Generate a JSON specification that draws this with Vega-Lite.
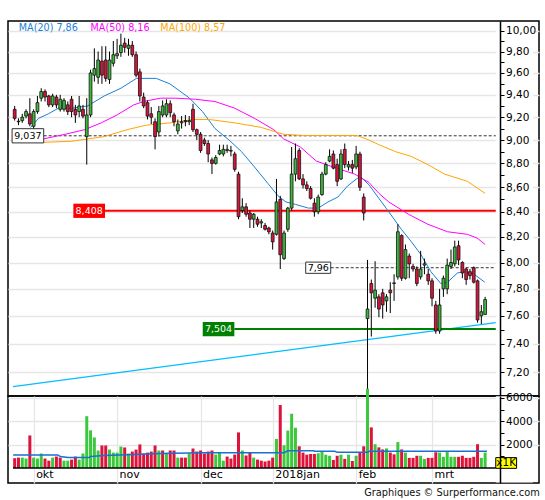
{
"$schema":"https://vega.github.io/schema/vega-lite/v6.json",
"padding":{"left":7,"top":20,"right":0,"bottom":0},
"background":"white",
"bounds":"flush",
"config":{"view":{"stroke":"#000","strokeWidth":1.5},"font":"DejaVu Sans","axis":{"minExtent":0,"labelFont":"DejaVu Sans"},"text":{"font":"DejaVu Sans"},"title":{"font":"DejaVu Sans"}},
"title":{"text":"Graphiques © Surperformance.com","orient":"bottom","anchor":"end","fontSize":9.8,"fontWeight":"normal","color":"#111","offset":4},
"datasets":{
"candles":[
{"i":0,"o":9.27,"h":9.30,"l":9.17,"c":9.19,"v":840,"vd":"d"},
{"i":1,"o":9.165,"h":9.19,"l":9.13,"c":9.16,"v":890,"vd":"d"},
{"i":2,"o":9.17,"h":9.23,"l":9.15,"c":9.20,"v":890,"vd":"u"},
{"i":3,"o":9.21,"h":9.27,"l":9.19,"c":9.25,"v":810,"vd":"u"},
{"i":4,"o":9.23,"h":9.37,"l":9.12,"c":9.14,"v":2790,"vd":"d"},
{"i":5,"o":9.12,"h":9.27,"l":9.09,"c":9.25,"v":890,"vd":"u"},
{"i":6,"o":9.25,"h":9.39,"l":9.23,"c":9.33,"v":810,"vd":"u"},
{"i":7,"o":9.37,"h":9.46,"l":9.34,"c":9.43,"v":1240,"vd":"u"},
{"i":8,"o":9.43,"h":9.45,"l":9.34,"c":9.38,"v":810,"vd":"d"},
{"i":9,"o":9.39,"h":9.40,"l":9.29,"c":9.31,"v":630,"vd":"d"},
{"i":10,"o":9.31,"h":9.41,"l":9.29,"c":9.39,"v":890,"vd":"u"},
{"i":11,"o":9.38,"h":9.40,"l":9.28,"c":9.31,"v":980,"vd":"d"},
{"i":12,"o":9.27,"h":9.40,"l":9.25,"c":9.36,"v":890,"vd":"d"},
{"i":13,"o":9.27,"h":9.37,"l":9.25,"c":9.35,"v":630,"vd":"u"},
{"i":14,"o":9.31,"h":9.34,"l":9.22,"c":9.25,"v":630,"vd":"u"},
{"i":15,"o":9.36,"h":9.39,"l":9.20,"c":9.25,"v":720,"vd":"d"},
{"i":16,"o":9.27,"h":9.31,"l":9.15,"c":9.22,"v":980,"vd":"d"},
{"i":17,"o":9.25,"h":9.39,"l":9.20,"c":9.30,"v":720,"vd":"u"},
{"i":18,"o":9.27,"h":9.31,"l":9.19,"c":9.21,"v":1240,"vd":"u"},
{"i":19,"o":9.03,"h":9.37,"l":8.79,"c":9.22,"v":4440,"vd":"u"},
{"i":20,"o":9.22,"h":9.63,"l":9.20,"c":9.60,"v":3230,"vd":"u"},
{"i":21,"o":9.58,"h":9.83,"l":9.52,"c":9.64,"v":2620,"vd":"u"},
{"i":22,"o":9.56,"h":9.80,"l":9.50,"c":9.72,"v":1500,"vd":"u"},
{"i":23,"o":9.71,"h":9.85,"l":9.50,"c":9.58,"v":1930,"vd":"d"},
{"i":24,"o":9.72,"h":9.85,"l":9.52,"c":9.55,"v":1930,"vd":"d"},
{"i":25,"o":9.54,"h":9.80,"l":9.50,"c":9.72,"v":1580,"vd":"u"},
{"i":26,"o":9.69,"h":9.90,"l":9.66,"c":9.77,"v":1320,"vd":"u"},
{"i":27,"o":9.76,"h":9.92,"l":9.73,"c":9.78,"v":1320,"vd":"u"},
{"i":28,"o":9.79,"h":9.97,"l":9.75,"c":9.86,"v":1840,"vd":"u"},
{"i":29,"o":9.88,"h":9.93,"l":9.79,"c":9.84,"v":1760,"vd":"d"},
{"i":30,"o":9.83,"h":9.92,"l":9.76,"c":9.86,"v":1240,"vd":"u"},
{"i":31,"o":9.86,"h":9.90,"l":9.75,"c":9.77,"v":1410,"vd":"d"},
{"i":32,"o":9.77,"h":9.80,"l":9.56,"c":9.58,"v":1580,"vd":"d"},
{"i":33,"o":9.61,"h":9.64,"l":9.34,"c":9.39,"v":2020,"vd":"d"},
{"i":34,"o":9.38,"h":9.42,"l":9.28,"c":9.30,"v":1240,"vd":"d"},
{"i":35,"o":9.33,"h":9.35,"l":9.18,"c":9.21,"v":1320,"vd":"d"},
{"i":36,"o":9.23,"h":9.29,"l":9.14,"c":9.20,"v":1410,"vd":"d"},
{"i":37,"o":9.16,"h":9.19,"l":8.92,"c":9.03,"v":1930,"vd":"d"},
{"i":38,"o":9.07,"h":9.30,"l":9.03,"c":9.25,"v":1500,"vd":"u"},
{"i":39,"o":9.22,"h":9.35,"l":9.20,"c":9.30,"v":1500,"vd":"d"},
{"i":40,"o":9.22,"h":9.36,"l":9.20,"c":9.32,"v":1240,"vd":"u"},
{"i":41,"o":9.32,"h":9.35,"l":9.20,"c":9.24,"v":1500,"vd":"d"},
{"i":42,"o":9.22,"h":9.24,"l":9.12,"c":9.16,"v":1500,"vd":"d"},
{"i":43,"o":9.08,"h":9.18,"l":9.05,"c":9.14,"v":890,"vd":"u"},
{"i":44,"o":9.15,"h":9.21,"l":9.10,"c":9.16,"v":890,"vd":"d"},
{"i":45,"o":9.17,"h":9.22,"l":9.12,"c":9.16,"v":890,"vd":"d"},
{"i":46,"o":9.16,"h":9.21,"l":9.13,"c":9.17,"v":1240,"vd":"u"},
{"i":47,"o":9.27,"h":9.32,"l":9.07,"c":9.09,"v":1670,"vd":"d"},
{"i":48,"o":9.09,"h":9.10,"l":9.00,"c":9.05,"v":1410,"vd":"d"},
{"i":49,"o":9.05,"h":9.07,"l":8.89,"c":8.91,"v":1500,"vd":"d"},
{"i":50,"o":9.00,"h":9.02,"l":8.95,"c":8.97,"v":1240,"vd":"d"},
{"i":51,"o":8.97,"h":9.00,"l":8.81,"c":8.88,"v":1410,"vd":"d"},
{"i":52,"o":8.83,"h":8.85,"l":8.71,"c":8.80,"v":1500,"vd":"d"},
{"i":53,"o":8.80,"h":8.87,"l":8.79,"c":8.85,"v":1150,"vd":"u"},
{"i":54,"o":8.88,"h":8.96,"l":8.87,"c":8.91,"v":1320,"vd":"u"},
{"i":55,"o":8.88,"h":8.96,"l":8.86,"c":8.92,"v":630,"vd":"u"},
{"i":56,"o":8.91,"h":8.96,"l":8.89,"c":8.92,"v":980,"vd":"d"},
{"i":57,"o":8.91,"h":8.95,"l":8.86,"c":8.905,"v":810,"vd":"d"},
{"i":58,"o":8.88,"h":8.90,"l":8.73,"c":8.75,"v":1150,"vd":"d"},
{"i":59,"o":8.71,"h":8.73,"l":8.34,"c":8.36,"v":3050,"vd":"d"},
{"i":60,"o":8.41,"h":8.51,"l":8.39,"c":8.44,"v":1500,"vd":"u"},
{"i":61,"o":8.44,"h":8.47,"l":8.36,"c":8.38,"v":1070,"vd":"d"},
{"i":62,"o":8.39,"h":8.41,"l":8.27,"c":8.34,"v":1320,"vd":"d"},
{"i":63,"o":8.34,"h":8.39,"l":8.27,"c":8.38,"v":890,"vd":"u"},
{"i":64,"o":8.34,"h":8.36,"l":8.28,"c":8.30,"v":720,"vd":"d"},
{"i":65,"o":8.31,"h":8.34,"l":8.27,"c":8.32,"v":630,"vd":"d"},
{"i":66,"o":8.29,"h":8.31,"l":8.25,"c":8.26,"v":550,"vd":"d"},
{"i":67,"o":8.27,"h":8.28,"l":8.22,"c":8.24,"v":630,"vd":"d"},
{"i":68,"o":8.23,"h":8.25,"l":8.10,"c":8.16,"v":890,"vd":"d"},
{"i":69,"o":8.22,"h":8.67,"l":8.21,"c":8.48,"v":2490,"vd":"u"},
{"i":70,"o":8.50,"h":8.53,"l":7.95,"c":8.06,"v":5400,"vd":"d"},
{"i":71,"o":8.03,"h":8.25,"l":8.02,"c":8.23,"v":1950,"vd":"u"},
{"i":72,"o":8.26,"h":8.44,"l":8.24,"c":8.43,"v":3210,"vd":"u"},
{"i":73,"o":8.43,"h":8.94,"l":8.41,"c":8.71,"v":4650,"vd":"u"},
{"i":74,"o":8.71,"h":8.97,"l":8.65,"c":8.84,"v":3450,"vd":"u"},
{"i":75,"o":8.91,"h":8.93,"l":8.66,"c":8.67,"v":1860,"vd":"d"},
{"i":76,"o":8.67,"h":8.71,"l":8.59,"c":8.62,"v":1320,"vd":"d"},
{"i":77,"o":8.62,"h":8.65,"l":8.57,"c":8.59,"v":1140,"vd":"d"},
{"i":78,"o":8.59,"h":8.61,"l":8.50,"c":8.51,"v":1200,"vd":"d"},
{"i":79,"o":8.47,"h":8.51,"l":8.36,"c":8.40,"v":1200,"vd":"d"},
{"i":80,"o":8.40,"h":8.54,"l":8.38,"c":8.52,"v":1260,"vd":"u"},
{"i":81,"o":8.54,"h":8.73,"l":8.53,"c":8.71,"v":1440,"vd":"u"},
{"i":82,"o":8.71,"h":8.81,"l":8.70,"c":8.79,"v":1140,"vd":"u"},
{"i":83,"o":8.82,"h":8.92,"l":8.81,"c":8.86,"v":1050,"vd":"u"},
{"i":84,"o":8.88,"h":8.91,"l":8.75,"c":8.76,"v":690,"vd":"d"},
{"i":85,"o":8.79,"h":8.84,"l":8.61,"c":8.65,"v":1050,"vd":"d"},
{"i":86,"o":8.67,"h":8.92,"l":8.66,"c":8.88,"v":1140,"vd":"u"},
{"i":87,"o":8.92,"h":8.97,"l":8.76,"c":8.79,"v":780,"vd":"d"},
{"i":88,"o":8.77,"h":8.82,"l":8.74,"c":8.79,"v":1140,"vd":"u"},
{"i":89,"o":8.79,"h":8.83,"l":8.72,"c":8.76,"v":600,"vd":"d"},
{"i":90,"o":8.77,"h":8.95,"l":8.75,"c":8.88,"v":1050,"vd":"u"},
{"i":91,"o":8.88,"h":8.90,"l":8.57,"c":8.60,"v":1320,"vd":"d"},
{"i":92,"o":8.52,"h":8.55,"l":8.33,"c":8.39,"v":1860,"vd":"d"},
{"i":93,"o":7.58,"h":8.02,"l":7.08,"c":7.65,"v":6800,"vd":"u"},
{"i":94,"o":7.84,"h":7.87,"l":7.45,"c":7.77,"v":3480,"vd":"d"},
{"i":95,"o":7.73,"h":8.01,"l":7.66,"c":7.79,"v":2040,"vd":"u"},
{"i":96,"o":7.74,"h":7.76,"l":7.59,"c":7.65,"v":1770,"vd":"d"},
{"i":97,"o":7.77,"h":7.80,"l":7.58,"c":7.68,"v":1590,"vd":"d"},
{"i":98,"o":7.71,"h":7.76,"l":7.63,"c":7.74,"v":1680,"vd":"u"},
{"i":99,"o":7.79,"h":7.85,"l":7.62,"c":7.77,"v":1320,"vd":"d"},
{"i":100,"o":7.84,"h":7.91,"l":7.71,"c":7.845,"v":1170,"vd":"d"},
{"i":101,"o":7.89,"h":8.30,"l":7.87,"c":8.24,"v":2220,"vd":"u"},
{"i":102,"o":8.21,"h":8.22,"l":7.86,"c":7.88,"v":1590,"vd":"d"},
{"i":103,"o":7.88,"h":8.14,"l":7.87,"c":8.10,"v":1320,"vd":"u"},
{"i":104,"o":8.05,"h":8.07,"l":7.88,"c":7.99,"v":870,"vd":"d"},
{"i":105,"o":7.97,"h":7.99,"l":7.93,"c":7.95,"v":870,"vd":"d"},
{"i":106,"o":7.95,"h":7.97,"l":7.82,"c":7.84,"v":1050,"vd":"d"},
{"i":107,"o":7.89,"h":8.09,"l":7.87,"c":7.95,"v":1050,"vd":"u"},
{"i":108,"o":7.98,"h":8.03,"l":7.91,"c":7.99,"v":780,"vd":"u"},
{"i":109,"o":7.91,"h":7.95,"l":7.83,"c":7.86,"v":870,"vd":"d"},
{"i":110,"o":7.86,"h":7.88,"l":7.67,"c":7.73,"v":870,"vd":"d"},
{"i":111,"o":7.68,"h":7.71,"l":7.47,"c":7.49,"v":1350,"vd":"d"},
{"i":112,"o":7.49,"h":7.80,"l":7.47,"c":7.68,"v":1320,"vd":"u"},
{"i":113,"o":7.80,"h":7.90,"l":7.74,"c":7.88,"v":960,"vd":"u"},
{"i":114,"o":7.80,"h":8.03,"l":7.76,"c":7.98,"v":1440,"vd":"u"},
{"i":115,"o":7.97,"h":8.10,"l":7.95,"c":8.00,"v":960,"vd":"u"},
{"i":116,"o":7.99,"h":8.17,"l":7.97,"c":8.12,"v":960,"vd":"u"},
{"i":117,"o":8.13,"h":8.17,"l":7.98,"c":8.02,"v":960,"vd":"d"},
{"i":118,"o":8.00,"h":8.01,"l":7.88,"c":7.92,"v":1050,"vd":"d"},
{"i":119,"o":7.95,"h":7.96,"l":7.83,"c":7.87,"v":870,"vd":"d"},
{"i":120,"o":7.93,"h":7.95,"l":7.87,"c":7.90,"v":870,"vd":"d"},
{"i":121,"o":7.96,"h":7.97,"l":7.84,"c":7.85,"v":960,"vd":"d"},
{"i":122,"o":7.86,"h":7.87,"l":7.55,"c":7.57,"v":2040,"vd":"d"},
{"i":123,"o":7.60,"h":7.68,"l":7.54,"c":7.63,"v":870,"vd":"u"},
{"i":124,"o":7.61,"h":7.74,"l":7.61,"c":7.72,"v":1320,"vd":"u"}
],
"ma":[
{"s":"MA20","i":4.2,"p":9.11},{"s":"MA20","i":6.3,"p":9.19},{"s":"MA20","i":8.9,"p":9.23},{"s":"MA20","i":11.5,"p":9.28},{"s":"MA20","i":15.1,"p":9.28},{"s":"MA20","i":19.2,"p":9.30},{"s":"MA20","i":23.6,"p":9.39},{"s":"MA20","i":28,"p":9.46},{"s":"MA20","i":32.1,"p":9.55},{"s":"MA20","i":37.3,"p":9.55},{"s":"MA20","i":40.9,"p":9.50},{"s":"MA20","i":42.5,"p":9.46},{"s":"MA20","i":46.1,"p":9.37},{"s":"MA20","i":49.5,"p":9.25},{"s":"MA20","i":52.8,"p":9.10},{"s":"MA20","i":56.5,"p":9.00},{"s":"MA20","i":59.8,"p":8.90},{"s":"MA20","i":63.2,"p":8.77},{"s":"MA20","i":66.8,"p":8.63},{"s":"MA20","i":69.4,"p":8.53},{"s":"MA20","i":71.5,"p":8.48},{"s":"MA20","i":74,"p":8.46},{"s":"MA20","i":77.4,"p":8.43},{"s":"MA20","i":80,"p":8.43},{"s":"MA20","i":82.6,"p":8.48},{"s":"MA20","i":85.2,"p":8.52},{"s":"MA20","i":87.7,"p":8.61},{"s":"MA20","i":90.1,"p":8.67},{"s":"MA20","i":91.1,"p":8.69},{"s":"MA20","i":93.4,"p":8.62},{"s":"MA20","i":98.6,"p":8.40},{"s":"MA20","i":101.9,"p":8.26},{"s":"MA20","i":104.6,"p":8.16},{"s":"MA20","i":107.1,"p":8.06},{"s":"MA20","i":109.7,"p":7.93},{"s":"MA20","i":112.3,"p":7.84},{"s":"MA20","i":114.1,"p":7.85},{"s":"MA20","i":116.7,"p":7.92},{"s":"MA20","i":118.8,"p":7.93},{"s":"MA20","i":121.1,"p":7.91},{"s":"MA20","i":123.9,"p":7.85},
{"s":"MA50","i":7.6,"p":9.01},{"s":"MA50","i":13.3,"p":9.05},{"s":"MA50","i":18.4,"p":9.09},{"s":"MA50","i":22.8,"p":9.15},{"s":"MA50","i":27,"p":9.22},{"s":"MA50","i":31.4,"p":9.31},{"s":"MA50","i":34,"p":9.34},{"s":"MA50","i":38.4,"p":9.37},{"s":"MA50","i":42.5,"p":9.37},{"s":"MA50","i":47.7,"p":9.36},{"s":"MA50","i":52.8,"p":9.34},{"s":"MA50","i":58,"p":9.28},{"s":"MA50","i":63.2,"p":9.19},{"s":"MA50","i":68.3,"p":9.09},{"s":"MA50","i":70.9,"p":9.01},{"s":"MA50","i":75.3,"p":8.94},{"s":"MA50","i":79.5,"p":8.82},{"s":"MA50","i":83.9,"p":8.77},{"s":"MA50","i":89.6,"p":8.71},{"s":"MA50","i":93.4,"p":8.64},{"s":"MA50","i":96,"p":8.55},{"s":"MA50","i":98.6,"p":8.48},{"s":"MA50","i":103.8,"p":8.38},{"s":"MA50","i":108.9,"p":8.30},{"s":"MA50","i":114.1,"p":8.24},{"s":"MA50","i":119.3,"p":8.22},{"s":"MA50","i":121.9,"p":8.19},{"s":"MA50","i":124,"p":8.14},
{"s":"MA100","i":7.6,"p":8.98},{"s":"MA100","i":15.1,"p":8.99},{"s":"MA100","i":23.6,"p":9.03},{"s":"MA100","i":29.6,"p":9.09},{"s":"MA100","i":34.7,"p":9.13},{"s":"MA100","i":40.9,"p":9.15},{"s":"MA100","i":46.9,"p":9.18},{"s":"MA100","i":51.3,"p":9.18},{"s":"MA100","i":58,"p":9.15},{"s":"MA100","i":65,"p":9.11},{"s":"MA100","i":70.9,"p":9.05},{"s":"MA100","i":76.1,"p":9.04},{"s":"MA100","i":84.9,"p":9.04},{"s":"MA100","i":90.1,"p":9.04},{"s":"MA100","i":92.7,"p":9.01},{"s":"MA100","i":96,"p":8.96},{"s":"MA100","i":100.4,"p":8.90},{"s":"MA100","i":104.5,"p":8.86},{"s":"MA100","i":108.9,"p":8.79},{"s":"MA100","i":113.3,"p":8.71},{"s":"MA100","i":119.3,"p":8.65},{"s":"MA100","i":124,"p":8.55}
],
"vma":[
{"i":-0.4,"v":1120},{"i":11.4,"v":1120},{"i":12,"v":980},{"i":14.1,"v":890},{"i":19.7,"v":890},{"i":20,"v":980},{"i":23.6,"v":1070},{"i":31.4,"v":1150},{"i":38.3,"v":1240},{"i":49.5,"v":1300},{"i":71,"v":1310},{"i":72,"v":1480},{"i":78.8,"v":1480},{"i":79,"v":1430},{"i":84.4,"v":1430},{"i":85,"v":1340},{"i":93,"v":1340},{"i":93.4,"v":1430},{"i":124.5,"v":1430}
],
"trend":[{"i":-0.44,"p":7.10},{"i":126.8,"p":7.55}],
"levels":[
{"level":9.037,"label":"9,037","from":7.65,"kind":"pivot"},
{"level":8.408,"label":"8,408","from":23.8,"kind":"resistance"},
{"level":7.96,"label":"7,96","from":83.3,"kind":"last"},
{"level":7.504,"label":"7,504","from":57.9,"kind":"support"}
]
},
"spacing":0,
"vconcat":[
{
"width":531,"height":375,
"resolve":{"axis":{"y":"independent"}},
"layer":[
{"data":{"values":[{}]},"mark":{"type":"rect","fill":"#ffffff"},
 "encoding":{"x":{"datum":126.8,"type":"quantitative","scale":{"domain":[-0.44,136.88],"nice":false,"zero":false},"axis":null},"x2":{"datum":136.6},
 "y":{"datum":7.045,"type":"quantitative","scale":{"type":"log","domain":[7.036,10.092],"nice":false},"axis":null},"y2":{"datum":10.08}}},
{"data":{"name":"trend"},"mark":{"type":"line","color":"#00bfff","strokeWidth":1.2},
 "encoding":{"x":{"field":"i","type":"quantitative","scale":{"domain":[-0.44,136.88],"nice":false,"zero":false},"axis":null},
 "y":{"field":"p","type":"quantitative","scale":{"type":"log","domain":[7.036,10.092],"nice":false},"axis":null}}},
{"data":{"name":"levels"},"transform":[{"filter":"datum.kind==='pivot' || datum.kind==='last'"}],
 "mark":{"type":"rule","color":"#333333","strokeDash":[3,2],"strokeWidth":1},
 "encoding":{"x":{"field":"from","type":"quantitative","scale":{"domain":[-0.44,136.88],"nice":false,"zero":false},"axis":null},"x2":{"datum":126.8},
 "y":{"field":"level","type":"quantitative","scale":{"type":"log","domain":[7.036,10.092],"nice":false},
  "axis":{"orient":"right","offset":-39,"zindex":1,"grid":false,"title":null,"values":[7.1,7.2,7.3,7.4,7.5,7.6,7.7,7.8,7.9,8.0,8.1,8.2,8.3,8.4,8.5,8.6,8.7,8.8,8.9,9.0,9.1,9.2,9.3,9.4,9.5,9.6,9.7,9.8,9.9,10.0],
  "labelExpr":"round(datum.value*10)%2==0 ? replace(format(datum.value,'.2f'),'.',',') : ''","labelOverlap":false,"labelFlush":false,"labelBound":false,
  "tickSize":4,"tickColor":"#000","domainColor":"#000","domainWidth":1.5,"labelFontSize":10.5,"labelColor":"#000","labelPadding":1.5}}}},
{"data":{"name":"levels"},"transform":[{"filter":"datum.kind==='resistance' || datum.kind==='support'"}],
 "mark":{"type":"rule","strokeWidth":2},
 "encoding":{"x":{"field":"from","type":"quantitative","scale":{"domain":[-0.44,136.88],"nice":false,"zero":false},"axis":null},"x2":{"datum":126.8},
 "y":{"field":"level","type":"quantitative","scale":{"type":"log","domain":[7.036,10.092],"nice":false},"axis":null},
 "color":{"condition":{"test":"datum.kind==='resistance'","value":"#ff0000"},"value":"#008000"}}},
{"data":{"name":"ma"},"mark":{"type":"line","strokeWidth":1},
 "encoding":{"x":{"field":"i","type":"quantitative","scale":{"domain":[-0.44,136.88],"nice":false,"zero":false},"axis":null},
 "y":{"field":"p","type":"quantitative","scale":{"type":"log","domain":[7.036,10.092],"nice":false},"axis":null},
 "color":{"field":"s","type":"nominal","scale":{"domain":["MA20","MA50","MA100"],"range":["#1a80d9","#ff00ff","#ffa500"]},"legend":null}}},
{"data":{"name":"candles"},"mark":{"type":"rule","color":"#000","strokeWidth":1},
 "encoding":{"x":{"field":"i","type":"quantitative","scale":{"domain":[-0.44,136.88],"nice":false,"zero":false},
  "axis":{"orient":"bottom","values":[5,27,49,68,90,110],"labels":false,"ticks":false,"domain":false,"grid":true,"gridColor":"#e6e6e6","gridWidth":1.3,"title":null,"maxExtent":0}},
 "y":{"field":"l","type":"quantitative","scale":{"type":"log","domain":[7.036,10.092],"nice":false},
  "axis":{"orient":"left","values":[7.2,7.4,7.6,7.8,8.0,8.2,8.4,8.6,8.8,9.0,9.2,9.4,9.6,9.8,10.0],"labels":false,"ticks":false,"domain":false,"grid":true,"gridColor":"#e6e6e6","gridWidth":1.3,"title":null,"maxExtent":0}},
 "y2":{"field":"h"}}},
{"data":{"name":"candles"},"mark":{"type":"bar","width":2.8,"stroke":"#111","strokeWidth":0.8},
 "encoding":{"x":{"field":"i","type":"quantitative","scale":{"domain":[-0.44,136.88],"nice":false,"zero":false},"axis":null},
 "y":{"field":"o","type":"quantitative","scale":{"type":"log","domain":[7.036,10.092],"nice":false},"axis":null},
 "y2":{"field":"c"},
 "fill":{"condition":{"test":"datum.c >= datum.o","value":"#3cb83c"},"value":"#dc143c"}}},
{"data":{"name":"levels"},"transform":[{"filter":"datum.kind==='pivot'"}],
 "mark":{"type":"point","shape":"M-1,-0.45L1,-0.45L1,0.45L-1,0.45Z","size":1000,"filled":true,"fill":"#ffffff","stroke":"#333333","strokeWidth":1,"opacity":1,"xOffset":-15.8},
 "encoding":{"x":{"field":"from","type":"quantitative","scale":{"domain":[-0.44,136.88],"nice":false,"zero":false},"axis":null},
 "y":{"field":"level","type":"quantitative","scale":{"type":"log","domain":[7.036,10.092],"nice":false},"axis":null}}},
{"data":{"name":"levels"},"transform":[{"filter":"datum.kind==='last'"}],
 "mark":{"type":"point","shape":"M-1,-0.45L1,-0.45L1,0.45L-1,0.45Z","size":625,"filled":true,"fill":"#ffffff","stroke":"#333333","strokeWidth":1,"opacity":1,"xOffset":-12.5},
 "encoding":{"x":{"field":"from","type":"quantitative","scale":{"domain":[-0.44,136.88],"nice":false,"zero":false},"axis":null},
 "y":{"field":"level","type":"quantitative","scale":{"type":"log","domain":[7.036,10.092],"nice":false},"axis":null}}},
{"data":{"name":"levels"},"transform":[{"filter":"datum.kind==='resistance' || datum.kind==='support'"}],
 "mark":{"type":"point","shape":"M-1,-0.45L1,-0.45L1,0.45L-1,0.45Z","size":1000,"filled":true,"strokeWidth":0,"opacity":1,"xOffset":-15.8},
 "encoding":{"x":{"field":"from","type":"quantitative","scale":{"domain":[-0.44,136.88],"nice":false,"zero":false},"axis":null},
 "y":{"field":"level","type":"quantitative","scale":{"type":"log","domain":[7.036,10.092],"nice":false},"axis":null},
 "fill":{"condition":{"test":"datum.kind==='resistance'","value":"#ff0000"},"value":"#008000"}}},
{"data":{"name":"levels"},"transform":[{"filter":"datum.kind!=='last'"}],
 "mark":{"type":"text","fontSize":9.5,"align":"center","baseline":"middle","xOffset":-15.8},
 "encoding":{"x":{"field":"from","type":"quantitative","scale":{"domain":[-0.44,136.88],"nice":false,"zero":false},"axis":null},
 "y":{"field":"level","type":"quantitative","scale":{"type":"log","domain":[7.036,10.092],"nice":false},"axis":null},
 "text":{"field":"label"},
 "color":{"condition":{"test":"datum.kind==='pivot'","value":"#000000"},"value":"#ffffff"}}},
{"data":{"name":"levels"},"transform":[{"filter":"datum.kind==='last'"}],
 "mark":{"type":"text","fontSize":9.5,"align":"center","baseline":"middle","xOffset":-12.5,"color":"#000"},
 "encoding":{"x":{"field":"from","type":"quantitative","scale":{"domain":[-0.44,136.88],"nice":false,"zero":false},"axis":null},
 "y":{"field":"level","type":"quantitative","scale":{"type":"log","domain":[7.036,10.092],"nice":false},"axis":null},
 "text":{"field":"label"}}},
{"data":{"values":[{}]},"mark":{"type":"text","fontSize":9.6,"align":"left","baseline":"middle","color":"#1a80d9","text":"MA(20)  7,86"},
 "encoding":{"x":{"datum":1.1,"type":"quantitative","scale":{"domain":[-0.44,136.88],"nice":false,"zero":false},"axis":null},
 "y":{"datum":10.02,"type":"quantitative","scale":{"type":"log","domain":[7.036,10.092],"nice":false},"axis":null}}},
{"data":{"values":[{}]},"mark":{"type":"text","fontSize":9.6,"align":"left","baseline":"middle","color":"#ff00ff","text":"MA(50)  8,16"},
 "encoding":{"x":{"datum":20.0,"type":"quantitative","scale":{"domain":[-0.44,136.88],"nice":false,"zero":false},"axis":null},
 "y":{"datum":10.02,"type":"quantitative","scale":{"type":"log","domain":[7.036,10.092],"nice":false},"axis":null}}},
{"data":{"values":[{}]},"mark":{"type":"text","fontSize":9.6,"align":"left","baseline":"middle","color":"#ffa500","text":"MA(100)  8,57"},
 "encoding":{"x":{"datum":38.4,"type":"quantitative","scale":{"domain":[-0.44,136.88],"nice":false,"zero":false},"axis":null},
 "y":{"datum":10.02,"type":"quantitative","scale":{"type":"log","domain":[7.036,10.092],"nice":false},"axis":null}}}
]
},
{
"width":531,"height":87,
"resolve":{"axis":{"y":"independent","x":"independent"}},
"layer":[
{"data":{"values":[{}]},"mark":{"type":"rect","fill":"#ffffff"},
 "encoding":{"x":{"datum":126.8,"type":"quantitative","scale":{"domain":[-0.44,136.88],"nice":false,"zero":false},"axis":null},"x2":{"datum":136.6},
 "y":{"datum":-1250,"type":"quantitative","scale":{"domain":[-1285,6170],"nice":false,"zero":false},"axis":null},"y2":{"datum":6140}}},
{"data":{"name":"candles"},"mark":{"type":"bar","width":3},
 "encoding":{"x":{"field":"i","type":"quantitative","scale":{"domain":[-0.44,136.88],"nice":false,"zero":false},
  "axis":{"orient":"bottom","offset":-15,"values":[5,27,49,68,90,110],
   "labelExpr":"datum.value==5?'okt':datum.value==27?'nov':datum.value==49?'dec':datum.value==68?'2018jan':datum.value==90?'feb':'mrt'",
   "labelAlign":"left","labelOffset":2,"labelPadding":0,"labelFontSize":11,"labelColor":"#000","ticks":false,"domain":false,
   "grid":true,"gridColor":"#e6e6e6","gridWidth":1.3,"title":null,"labelFlush":false,"labelOverlap":false}},
 "y":{"field":"v","type":"quantitative","scale":{"domain":[-1285,6170],"nice":false,"zero":false},
  "axis":{"orient":"left","values":[2000,4000,6000],"labels":false,"ticks":false,"domain":false,"grid":true,"gridColor":"#e6e6e6","gridWidth":1.3,"title":null,"maxExtent":0}},
 "y2":{"datum":0},
 "fill":{"condition":{"test":"datum.vd==='u'","value":"#3cc83c"},"value":"#dc143c"}}},
{"data":{"name":"vma"},"mark":{"type":"line","color":"#1a70d0","strokeWidth":1.5},
 "encoding":{"x":{"field":"i","type":"quantitative","scale":{"domain":[-0.44,136.88],"nice":false,"zero":false},"axis":null},
 "y":{"field":"v","type":"quantitative","scale":{"domain":[-1285,6170],"nice":false,"zero":false},
  "axis":{"orient":"right","offset":-39,"zindex":1,"grid":false,"title":null,"values":[1000,2000,3000,4000,5000,6000],
   "labelExpr":"datum.value % 2000 == 0 ? ''+datum.value : ''","labelOverlap":false,"labelFlush":false,
   "tickSize":4,"tickColor":"#000","domainColor":"#000","domainWidth":1.5,"labelFontSize":10.5,"labelColor":"#000","labelPadding":1.5}}}},
{"data":{"values":[{}]},"mark":{"type":"rule","color":"#000","strokeWidth":1.5},
 "encoding":{"x":{"datum":-0.44,"type":"quantitative","scale":{"domain":[-0.44,136.88],"nice":false,"zero":false},"axis":null},"x2":{"datum":126.8},
 "y":{"datum":0,"type":"quantitative","scale":{"domain":[-1285,6170],"nice":false,"zero":false},"axis":null}}},
{"data":{"values":[{}]},"mark":{"type":"rect","fill":"#ffff00","stroke":"#000","strokeWidth":1},
 "encoding":{"x":{"datum":126.8,"type":"quantitative","scale":{"domain":[-0.44,136.88],"nice":false,"zero":false},"axis":null},"x2":{"datum":132.3},
 "y":{"datum":-30,"type":"quantitative","scale":{"domain":[-1285,6170],"nice":false,"zero":false},"axis":null},"y2":{"datum":890}}},
{"data":{"values":[{}]},"mark":{"type":"text","fontSize":10.5,"align":"center","baseline":"middle","color":"#000","text":"x1K"},
 "encoding":{"x":{"datum":129.55,"type":"quantitative","scale":{"domain":[-0.44,136.88],"nice":false,"zero":false},"axis":null},
 "y":{"datum":430,"type":"quantitative","scale":{"domain":[-1285,6170],"nice":false,"zero":false},"axis":null}}}
]
}
]
}
